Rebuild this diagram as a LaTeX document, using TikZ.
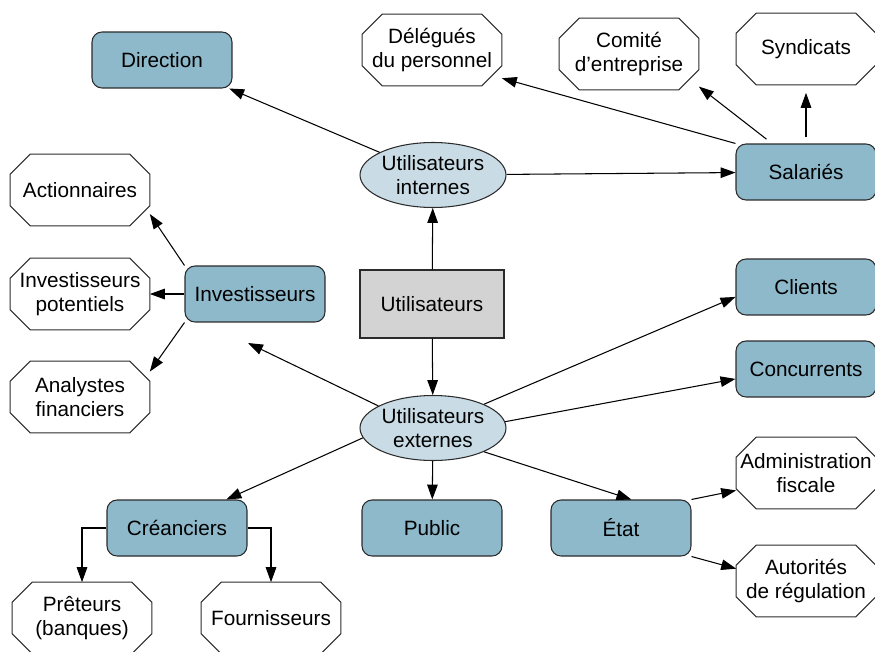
\documentclass[tikz,border=0pt]{standalone}
\usepackage{fontspec}
\setmainfont{Liberation Sans}
\usetikzlibrary{arrows.meta,shapes.geometric}
\definecolor{boxblue}{HTML}{8EB9CB}
\definecolor{ellblue}{HTML}{C9DCE5}
\definecolor{boxgray}{HTML}{D3D3D3}
\definecolor{linegray}{HTML}{2B2B2B}
\tikzstyle{bluebox}=[rectangle,rounded corners=0.2cm,fill=boxblue,draw=linegray,line width=0.6pt,minimum width=2.8cm,minimum height=1.12cm,inner sep=0pt,align=center]
\tikzstyle{octo}=[rectangle,minimum width=2.78cm,minimum height=1.42cm,inner sep=0pt,align=center]
\tikzstyle{octoline}=[draw=linegray,line width=0.6pt]
\tikzstyle{ellip}=[ellipse,fill=ellblue,draw=linegray,line width=0.6pt,minimum width=2.92cm,minimum height=1.3cm,inner sep=0pt,align=center]
\tikzstyle{graybox}=[rectangle,fill=boxgray,draw=linegray,line width=0.6pt,minimum width=2.88cm,minimum height=1.36cm,inner sep=0pt]
\tikzstyle{edge}=[draw,line width=0.6pt,-{Triangle[length=8.5pt,width=6pt]}]

\begin{document}
\begin{tikzpicture}[x=0.02cm,y=-0.02cm,font=\fontsize{11.8}{13.6}\selectfont]

    \useasboundingbox (0,0) rectangle (875,652);

    % centre
    \node[graybox] (uti) at (432,304) {Utilisateurs};
    \foreach \pos/\name/\txt in {{(433,175)/int/{Utilisateurs\\internes}}, {(433,428)/ext/{Utilisateurs\\externes}}}
        \node[ellip] (\name) at \pos {\txt};

    % groupes
    \foreach \pos/\name/\txt in {{(162,60)/dir/Direction}, {(806,172)/sal/Salariés}, {(255,294)/inv/Investisseurs},
        {(806,287)/cli/Clients}, {(806,369)/con/Concurrents}, {(177,528)/cre/Créanciers},
        {(432,528)/pub/Public}, {(621,528)/eta/État}}
        \node[bluebox] (\name) at \pos {\txt};

    % sous-groupes
    \foreach \pos/\name/\txt in {{(432,50)/del/{Délégués\\du personnel}}, {(629,54)/com/{Comité\\d’entreprise}},
        {(806,49)/syn/Syndicats}, {(80,190)/act/Actionnaires}, {(80,294)/pot/{Investisseurs\\potentiels}},
        {(80,397)/ana/{Analystes\\financiers}}, {(806,473)/adm/{Administration\\fiscale}},
        {(806,581)/aut/{Autorités\\de régulation}}, {(82,618)/pre/{Prêteurs\\(banques)}}, {(271,618)/fou/Fournisseurs}}
        \node[octo] (\name) at \pos {\txt};
    \foreach \name in {del,com,syn,act,pot,ana,adm,aut,pre,fou}
        \draw[octoline] ([xshift=0.4cm]\name.north west) -- ([xshift=-0.4cm]\name.north east)
            -- ([yshift=-0.4cm]\name.north east) -- ([yshift=0.4cm]\name.south east)
            -- ([xshift=-0.4cm]\name.south east) -- ([xshift=0.4cm]\name.south west)
            -- ([yshift=0.4cm]\name.south west) -- ([yshift=-0.4cm]\name.north west) -- cycle;

    \coordinate (invgap) at (248,343);

    % liens
    \foreach \source/\dest in {uti/int, uti/ext, int/sal, int/dir, ext/pub, inv/pot}
        \path[edge] (\source) -- (\dest);
    \foreach \source/\dest in {sal.north west/del.-22, inv.north west/act.-19, inv.south west/ana.20,
        ext.158/invgap, ext.25/cli.188, ext.5/con.188, ext.188/cre.30, ext.-25/eta.70,
        eta.north east/adm.194, eta.south east/aut.170}
        \path[edge] (\source) -- (\dest);
    \path[edge,shorten <=0.14cm] (sal.140) -- (com.-25);
    \path[edge,shorten <=0.12cm,shorten >=0.16cm] (sal.north) -- (syn.south);
    \path[edge] (cre.west) -| (pre.north);
    \path[edge] (cre.east) -| (fou.north);

\end{tikzpicture}
\end{document}
